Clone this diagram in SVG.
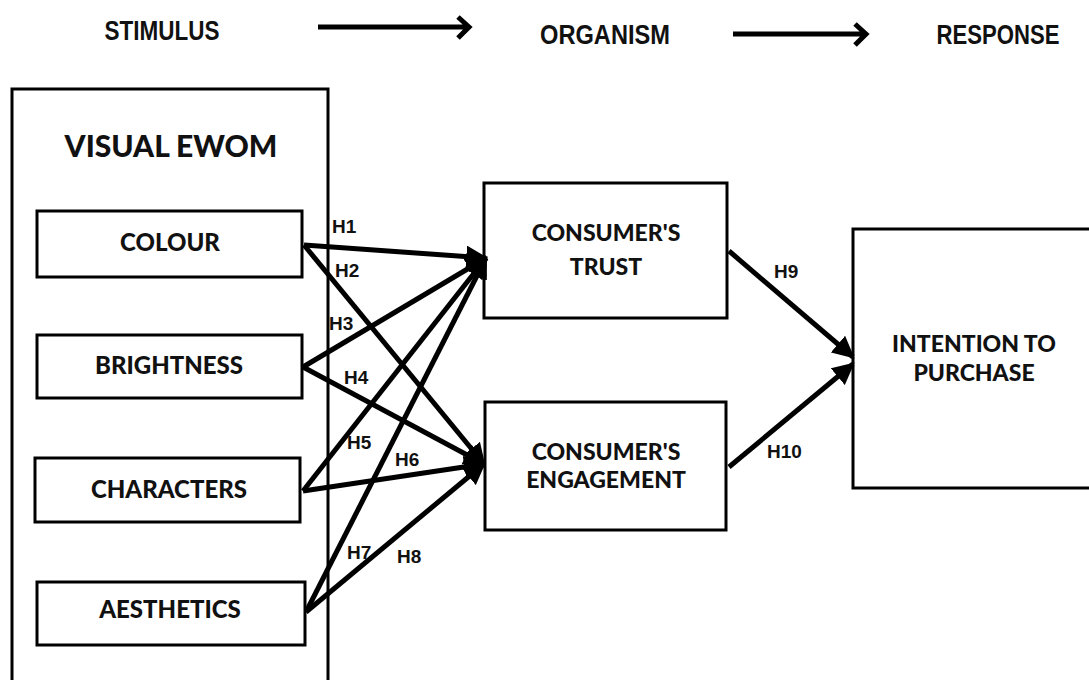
<svg xmlns="http://www.w3.org/2000/svg" width="1089" height="680" viewBox="0 0 1089 680">
<style>
.box{fill:#fff;stroke:#000;stroke-width:3}
.lbl{font-family:Lato,"Liberation Sans",sans-serif;font-weight:900;fill:#111;text-anchor:middle}
.top{font-family:"Liberation Sans Narrow","Liberation Sans",sans-serif;font-weight:bold;font-size:27px;fill:#111;text-anchor:middle}
.h{font-family:"Liberation Sans",Arial,sans-serif;font-weight:bold;font-size:19px;fill:#111}
.cn{stroke:#000;stroke-width:5;fill:none}
</style>
<defs>
<marker id="ah" viewBox="0 0 10 10" refX="9" refY="5" markerWidth="4.4" markerHeight="4.4" orient="auto" markerUnits="strokeWidth">
<path d="M0,0 L10,5 L0,10 Z" fill="#000"/>
</marker>
</defs>
<rect width="1089" height="680" fill="#fff"/>
<g id="header">
<text class="top" x="162" y="40" textLength="115" lengthAdjust="spacingAndGlyphs">STIMULUS</text>
<text class="top" x="605" y="44" textLength="130" lengthAdjust="spacingAndGlyphs">ORGANISM</text>
<text class="top" x="998" y="44" textLength="123" lengthAdjust="spacingAndGlyphs">RESPONSE</text>
<path class="cn" d="M318,27 H468 M458,17 L469,27 L458,38" stroke-width="6"/>
<path class="cn" d="M733,34 H866 M855,24 L866,34 L855,45" stroke-width="6"/>
</g>
<g id="visual-ewom">
<rect class="box" x="12" y="89" width="316" height="600"/>
<text class="lbl" x="171" y="157" font-size="30">VISUAL EWOM</text>
</g>
<g id="colour"><rect class="box" x="37" y="211" width="265" height="66"/><text class="lbl" x="170" y="251" font-size="24">COLOUR</text></g>
<g id="brightness"><rect class="box" x="37" y="335" width="265" height="63"/><text class="lbl" x="169" y="374" font-size="24">BRIGHTNESS</text></g>
<g id="characters"><rect class="box" x="35" y="458" width="265" height="64"/><text class="lbl" x="169" y="498" font-size="24">CHARACTERS</text></g>
<g id="aesthetics"><rect class="box" x="37" y="582" width="268" height="63"/><text class="lbl" x="170" y="618" font-size="24">AESTHETICS</text></g>
<g id="trust"><rect class="box" x="484" y="183" width="243" height="135"/><text class="lbl" x="606" y="241" font-size="23">CONSUMER'S</text><text class="lbl" x="606" y="275" font-size="23">TRUST</text></g>
<g id="engagement"><rect class="box" x="485" y="402" width="241" height="128"/><text class="lbl" x="606" y="460" font-size="23">CONSUMER'S</text><text class="lbl" x="606" y="488" font-size="23">ENGAGEMENT</text></g>
<g id="intention"><rect class="box" x="853" y="229" width="260" height="259"/><text class="lbl" x="974" y="352" font-size="23">INTENTION TO</text><text class="lbl" x="974" y="381" font-size="23">PURCHASE</text></g>
<g id="connectors">
<line class="cn" x1="304" y1="245" x2="486" y2="258" marker-end="url(#ah)"/>
<line class="cn" x1="304" y1="245" x2="484" y2="464" marker-end="url(#ah)"/>
<line class="cn" x1="303" y1="367" x2="486" y2="258" marker-end="url(#ah)"/>
<line class="cn" x1="303" y1="367" x2="484" y2="464" marker-end="url(#ah)"/>
<line class="cn" x1="303" y1="491" x2="486" y2="258" marker-end="url(#ah)"/>
<line class="cn" x1="303" y1="491" x2="484" y2="464" marker-end="url(#ah)"/>
<line class="cn" x1="306" y1="612" x2="486" y2="258" marker-end="url(#ah)"/>
<line class="cn" x1="306" y1="612" x2="484" y2="464" marker-end="url(#ah)"/>
<line class="cn" x1="729" y1="251" x2="853" y2="357" marker-end="url(#ah)"/>
<line class="cn" x1="729" y1="467" x2="853" y2="364" marker-end="url(#ah)"/>
<text class="h" x="332" y="233">H1</text>
<text class="h" x="335" y="277">H2</text>
<text class="h" x="329" y="330">H3</text>
<text class="h" x="344" y="384">H4</text>
<text class="h" x="347" y="449">H5</text>
<text class="h" x="395" y="466">H6</text>
<text class="h" x="347" y="559">H7</text>
<text class="h" x="397" y="563">H8</text>
<text class="h" x="774" y="278">H9</text>
<text class="h" x="767" y="458">H10</text>
</g>
</svg>
